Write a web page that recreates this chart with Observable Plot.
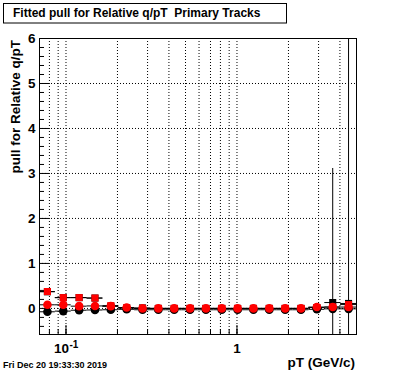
<!DOCTYPE html>
<html><head><meta charset="utf-8">
<script src="https://cdn.jsdelivr.net/npm/d3@7"></script>
<script src="https://cdn.jsdelivr.net/npm/@observablehq/plot@0.6"></script>
<style>
html,body{margin:0;padding:0;background:#fff;}
#wrap{position:relative;width:396px;height:372px;}
</style>
</head><body><div id="wrap"></div>
<script>
// ---- data ----
const binEdges = [0.07,0.08665,0.10727,0.13279,0.16438,0.20349,0.25190,0.31183,0.38602,0.47785,0.59153,0.73227,0.90648,1.12213,1.38909,1.71956,2.12865,2.63506,3.26195,4.03797,5.0];
const pT = [0.07788,0.09641,0.11935,0.14774,0.18289,0.22641,0.28027,0.34695,0.42949,0.53166,0.65814,0.81473,1.00856,1.24849,1.54551,1.91320,2.36835,2.93177,3.62929,4.49269];
const blackSquare    = [0.37,0.24,0.24,0.23,0.05,0.01,0.01,0.0,0.0,0.0,0.0,0.0,0.0,0.0,0.0,0.0,0.0,0.02,0.13,0.11];
const blackSquareErr = [0.03,0.02,0.02,0.02,0.02,0.02,0.02,0.02,0.02,0.02,0.02,0.02,0.02,0.02,0.02,0.02,0.03,0.05,2.98,7.5];
const redSquare      = [0.375,0.24,0.24,0.23,0.06,0.01,0.0,0.0,0.0,0.0,0.0,0.0,0.0,0.0,0.0,0.0,0.0,0.02,0.03,0.085];
const redSquareErr   = [0.03,0.02,0.02,0.02,0.02,0.02,0.02,0.02,0.02,0.02,0.02,0.02,0.02,0.02,0.02,0.02,0.03,0.04,0.05,0.06];
const blackCircle    = [-0.075,-0.06,-0.04,-0.035,-0.03,-0.02,-0.03,-0.03,-0.03,-0.03,-0.03,-0.03,-0.03,-0.03,-0.03,-0.03,-0.03,-0.02,-0.01,-0.01];
const blackCircleErr = [0.02,0.02,0.02,0.02,0.02,0.02,0.02,0.02,0.02,0.02,0.02,0.02,0.02,0.02,0.02,0.02,0.02,0.03,0.04,0.05];
const redCircle      = [0.08,0.08,0.05,0.055,0.05,0.02,0.0,0.0,0.0,0.0,0.0,0.0,0.0,0.0,0.0,0.0,0.0,0.03,0.03,0.03];
const redCircleErr   = [0.02,0.02,0.02,0.02,0.02,0.02,0.02,0.02,0.02,0.02,0.02,0.02,0.02,0.02,0.02,0.02,0.02,0.03,0.04,0.05];

const yMajorTicks = [0,1,2,3,4,5,6];
const yMinorTicks = [-0.4,-0.2,0.2,0.4,0.6,0.8,1.2,1.4,1.6,1.8,2.2,2.4,2.6,2.8,3.2,3.4,3.6,3.8,4.2,4.4,4.6,4.8,5.2,5.4,5.6,5.8];
const xGridTicks = [0.08,0.09,0.1,0.2,0.3,0.4,0.5,0.6,0.7,0.8,0.9,1,2,3,4];
const xMajorTicks = [0.1,1];
const xPowTick = [0.1];     // labelled as 10^-1
const xPowBase = "10";
const xPowExp = "-1";
const xPlainTick = [1];     // labelled as 1

const titleText = "Fitted pull for Relative q/pT  Primary Tracks";
const yTitle = "pull for Relative q/pT";
const xTitle = "pT (GeV/c)";
const dateText = "Fri Dec 20 19:33:30 2019";

const mk = (vals, errs) => pT.map((x, i) => ({x, lo: binEdges[i], hi: binEdges[i+1], y: vals[i], e: errs[i]}));
const series = [
  {d: mk(blackSquare, blackSquareErr), color: "black", symbol: "square", r: 4},
  {d: mk(redSquare, redSquareErr), color: "red", symbol: "square", r: 4},
  {d: mk(blackCircle, blackCircleErr), color: "black", symbol: "circle", r: 4.3},
  {d: mk(redCircle, redCircleErr), color: "red", symbol: "circle", r: 4.3}
];

const FONT = "'Liberation Sans', Arial, Helvetica, sans-serif";
const grid = {stroke: "black", strokeDasharray: "1,2", strokeWidth: 1, strokeOpacity: 1};
const lab = {fontSize: 13.5, fontWeight: "bold", fill: "black"};

const marks = [
  Plot.ruleX(xGridTicks, {x: d => d, ...grid}),
  Plot.ruleY(yMajorTicks, {y: d => d, ...grid}),
  Plot.axisY({ticks: yMinorTicks, tickSize: -5, tickFormat: () => "", label: null, strokeOpacity: 1}),
  Plot.axisY({ticks: yMajorTicks, tickSize: -9, tickPadding: 13, tickFormat: d => String(d), label: null, ...lab, strokeOpacity: 1}),
  Plot.axisX({ticks: xGridTicks, tickSize: -5, tickFormat: () => "", label: null, strokeOpacity: 1}),
  Plot.axisX({ticks: xMajorTicks, tickSize: -9, tickFormat: () => "", label: null, strokeOpacity: 1}),
  Plot.text(xPowTick, {x: d => d, frameAnchor: "bottom", text: () => xPowBase, textAnchor: "end", dx: 3, dy: 18, lineAnchor: "bottom", ...lab}),
  Plot.text(xPowTick, {x: d => d, frameAnchor: "bottom", text: () => xPowExp, textAnchor: "start", dx: 3.5, dy: 13, lineAnchor: "bottom", fontSize: 10, fontWeight: "bold", fill: "black"}),
  Plot.text(xPlainTick, {x: d => d, frameAnchor: "bottom", text: d => String(d), textAnchor: "middle", dy: 18, lineAnchor: "bottom", ...lab})
];
for (const s of series) {
  marks.push(Plot.ruleY(s.d, {y: "y", x1: "lo", x2: "hi", stroke: "black", strokeWidth: 1}));
  marks.push(Plot.ruleX(s.d, {x: "x", y1: d => d.y - d.e, y2: d => d.y + d.e, stroke: "black", strokeWidth: 1, clip: true}));
}
for (const s of series) {
  marks.push(Plot.dot(s.d, {x: "x", y: "y", r: s.r, symbol: s.symbol, fill: s.color, stroke: "none"}));
}
marks.push(Plot.frame({stroke: "black", strokeWidth: 1}));

const chart = Plot.plot({
  width: 396, height: 372,
  marginLeft: 39, marginRight: 40, marginTop: 38, marginBottom: 38,
  style: {fontFamily: FONT, background: "white", color: "black"},
  x: {type: "log", domain: [0.07, 5]},
  y: {domain: [-0.58, 6]},
  marks
});
document.getElementById("wrap").appendChild(chart);

const svg = d3.select(chart);
const addText = (t) => svg.append("text").attr("font-family", FONT).attr("font-weight", "bold").attr("fill", "black").attr("text-anchor", "start").text(t);
// title box
svg.append("rect").attr("x", 3.5).attr("y", 3.5).attr("width", 283).attr("height", 19.5)
  .attr("fill", "white").attr("stroke", "black").attr("stroke-width", 1);
addText(titleText).attr("x", 13).attr("y", 16.5).attr("font-size", 12).attr("xml:space", "preserve").style("white-space", "pre");
// y title
addText(yTitle).attr("transform", "translate(20,40) rotate(-90)").attr("text-anchor", "end").attr("font-size", 13.5);
// x title
addText(xTitle).attr("x", 355).attr("y", 367).attr("text-anchor", "end").attr("font-size", 13.5);
// date
addText(dateText).attr("x", 3).attr("y", 367.5).attr("font-size", 9);
</script>
</body></html>
